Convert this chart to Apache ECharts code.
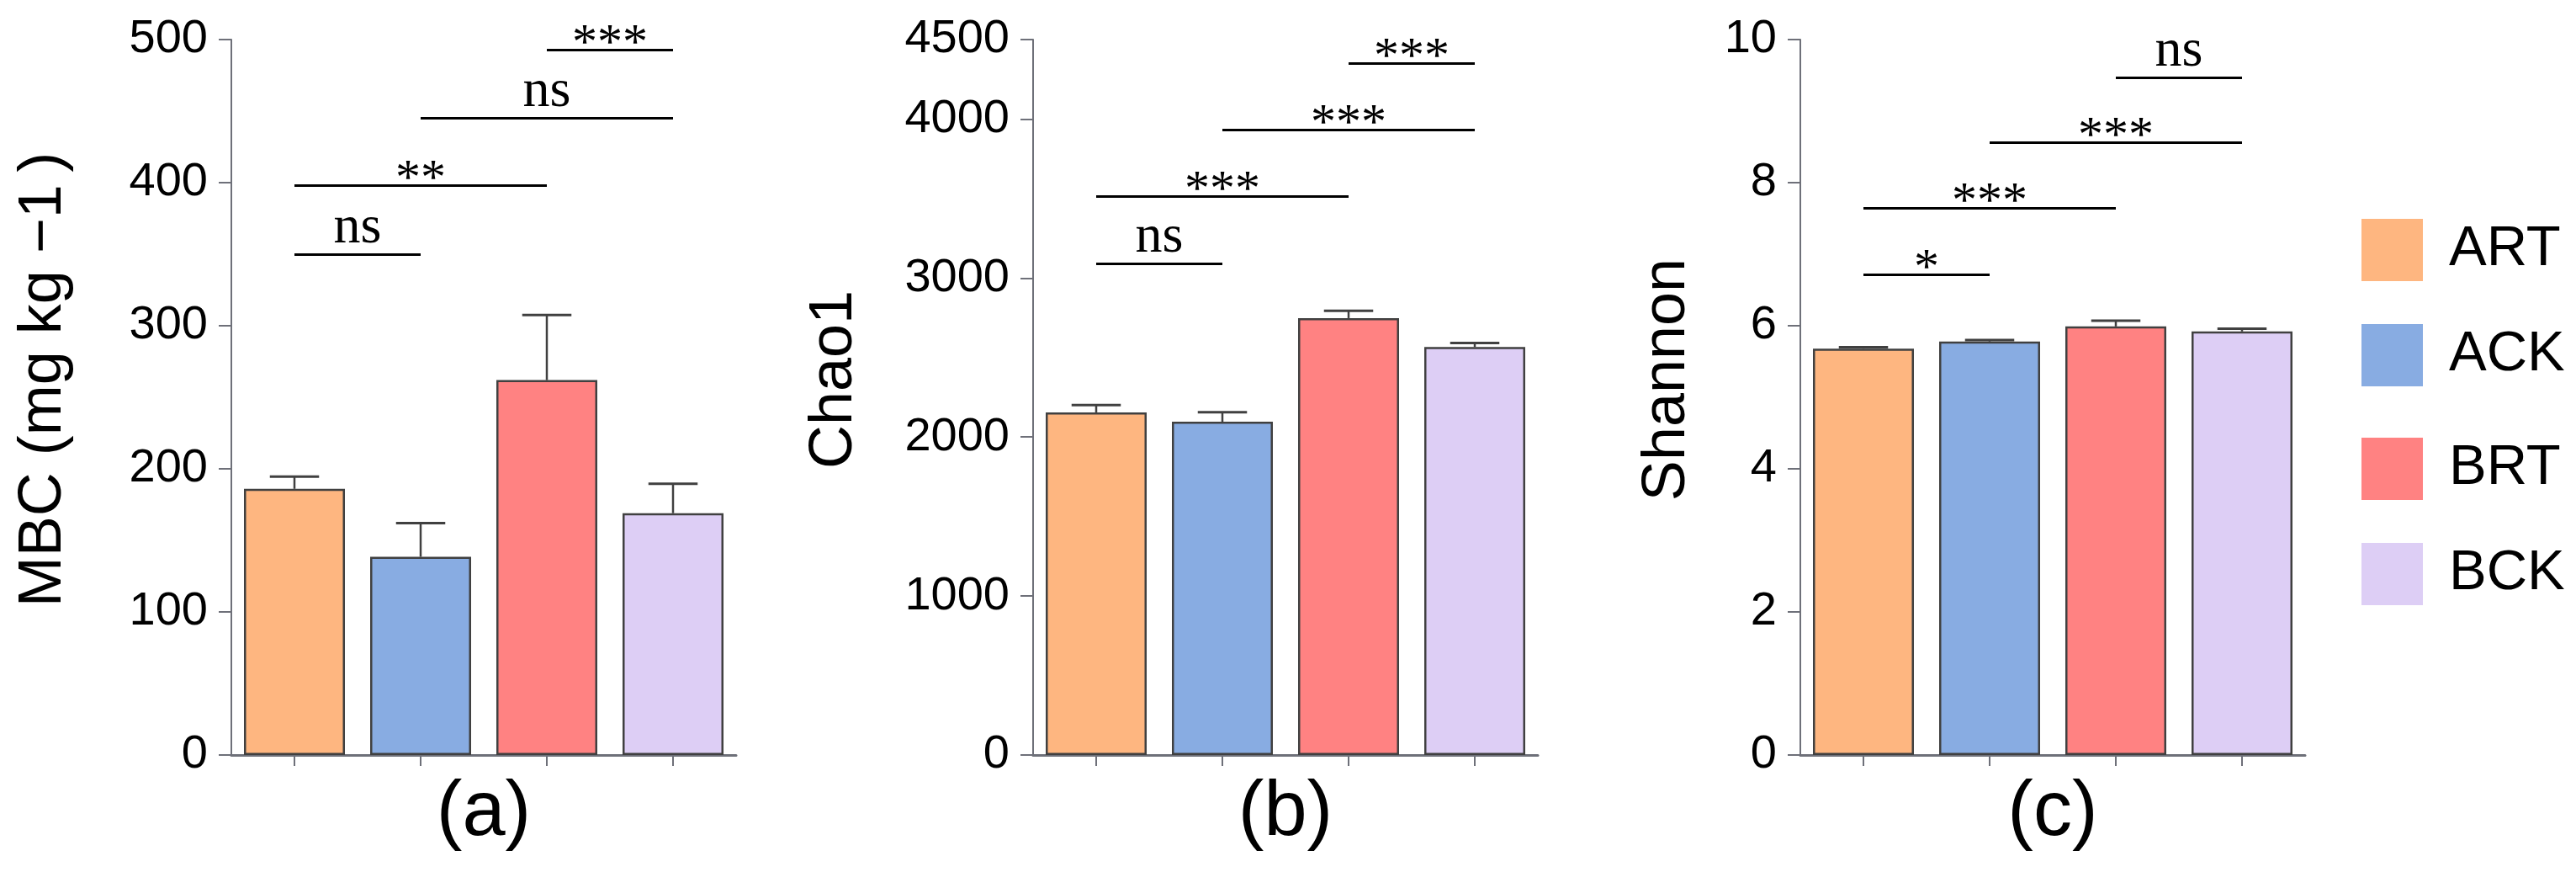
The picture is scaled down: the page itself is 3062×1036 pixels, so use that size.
<!DOCTYPE html>
<html>
<head>
<meta charset="utf-8">
<script src="https://cdn.jsdelivr.net/npm/echarts@6/dist/echarts.min.js"></script>
<style>
  html, body { margin: 0; padding: 0; background: #fff; }
  #chart { width: 3062px; height: 1036px; }
</style>
</head>
<body>
<div id="chart"></div>
<script>
// groups and values
const groups = ['ART', 'ACK', 'BRT', 'BCK']

const mbcMean = [186, 138.5, 262, 169]
const mbcErr = [8.5, 23.5, 45.5, 20.5]
// [from, to, y, label]
const mbcSig = [[0, 1, 350, 'ns'], [0, 2, 398, '**'], [1, 3, 445, 'ns'], [2, 3, 493, '***']]

const chaoMean = [2155, 2096, 2748, 2566]
const chaoErr = [46, 60, 46, 25]
const chaoSig = [[0, 1, 3093, 'ns'], [0, 2, 3512, '***'], [1, 3, 3932, '***'], [2, 3, 4351, '***']]

const shanMean = [5.68, 5.78, 5.99, 5.92]
const shanErr = [0.02, 0.02, 0.08, 0.04]
const shanSig = [[0, 1, 6.72, '*'], [0, 2, 7.64, '***'], [1, 3, 8.56, '***'], [2, 3, 9.47, 'ns']]

const colors = ['#FEB680', '#88ACE2', '#FF8282', '#DDCEF5']
const axisGrey = '#6E7079'
const sans = 'Liberation Sans, Arial, sans-serif'
const serif = 'Liberation Serif, Times New Roman, serif'

const chart = echarts.init(document.getElementById('chart'))

const panels = [
  { left: 275, name: 'MBC (mg kg \u22121\u2009)', sub: '(a)', mean: mbcMean, err: mbcErr, sig: mbcSig, max: 500, interval: 100, gap: 187 },
  { left: 1228, name: 'Chao1', sub: '(b)', mean: chaoMean, err: chaoErr, sig: chaoSig, max: 4500, interval: 1000, gap: 200 },
  { left: 2140, name: 'Shannon', sub: '(c)', mean: shanMean, err: shanErr, sig: shanSig, max: 10, interval: 2, gap: 122 }
]

let grid = [], xAxis = [], yAxis = [], series = []

panels.forEach((p, i) => {
  grid.push({ left: p.left, top: 47, width: 600, height: 850 })
  xAxis.push({
    type: 'category', gridIndex: i, data: groups,
    name: p.sub, nameLocation: 'middle', nameGap: 24,
    nameTextStyle: { fontSize: 92, color: '#000', fontFamily: sans },
    axisLine: { show: true, lineStyle: { color: axisGrey, width: 3 } },
    axisTick: { show: true, alignWithLabel: true, length: 13, lineStyle: { color: axisGrey, width: 2 } },
    axisLabel: { show: false }
  })
  yAxis.push({
    type: 'value', gridIndex: i, min: 0, max: p.max, interval: p.interval,
    name: p.name, nameLocation: 'middle', nameGap: p.gap,
    nameTextStyle: { fontSize: 72, color: '#000', fontFamily: sans, padding: [0, 0, 0, 42] },
    axisLine: { show: true, lineStyle: { color: axisGrey, width: 2 } },
    axisTick: { show: true, length: 15, lineStyle: { color: axisGrey, width: 2 } },
    axisLabel: { fontSize: 56, color: '#000', fontFamily: sans, margin: 28, formatter: v => String(v) },
    splitLine: { show: false }
  })

  groups.forEach((g, k) => {
    let s = {
      type: 'bar', name: g, xAxisIndex: i, yAxisIndex: i,
      data: p.mean.map((v, j) => (j === k ? v : '-')),
      barWidth: '80%', barGap: '-100%',
      itemStyle: { color: colors[k], borderColor: '#404040', borderWidth: 2.5 }
    }
    if (k === 0) {
      s.markLine = {
        silent: true, symbol: ['none', 'none'], animation: false,
        lineStyle: { color: '#000', width: 3, type: 'solid' },
        data: p.sig.map(d => {
          const stars = d[3] !== 'ns'
          return [
            { coord: [d[0], d[2]], name: d[3],
              label: { show: true, position: 'middle', formatter: '{b}', color: '#000', fontFamily: serif,
                       fontSize: stars ? 60 : 64, distance: stars ? -24 : -1 } },
            { coord: [d[1], d[2]] }
          ]
        })
      }
    }
    series.push(s)
  })

  // error bars (upper only)
  series.push({
    type: 'custom', xAxisIndex: i, yAxisIndex: i, z: 5,
    data: p.mean.map((v, j) => [j, v, p.err[j]]),
    encode: { x: 0, y: 1 },
    renderItem: (params, api) => {
      const base = api.coord([api.value(0), api.value(1)])
      const top = api.coord([api.value(0), api.value(1) + api.value(2)])
      const half = api.size([1, 0])[0] * 0.195
      return {
        type: 'group',
        children: [
          { type: 'line', shape: { x1: base[0], y1: base[1], x2: top[0], y2: top[1] }, style: { stroke: '#404040', lineWidth: 2.5 } },
          { type: 'line', shape: { x1: top[0] - half, y1: top[1], x2: top[0] + half, y2: top[1] }, style: { stroke: '#404040', lineWidth: 3 } }
        ]
      }
    }
  })
})

// one legend per entry so the rows sit where they do in the figure
const legendTops = [260, 385, 520, 645]
const legend = groups.map((g, k) => ({
  data: [g], orient: 'vertical', left: 2807, top: legendTops[k], padding: 0,
  itemWidth: 73, itemHeight: 74, icon: 'rect', selectedMode: false,
  itemStyle: { borderWidth: 0 },
  textStyle: { fontSize: 67, color: '#000', fontFamily: sans, padding: [0, 0, 0, 26] }
}))

const option = {
  backgroundColor: '#fff',
  animation: false,
  grid, xAxis, yAxis, series, legend
}
chart.setOption(option, true)
window.onresize = chart.resize
</script>
</body>
</html>
